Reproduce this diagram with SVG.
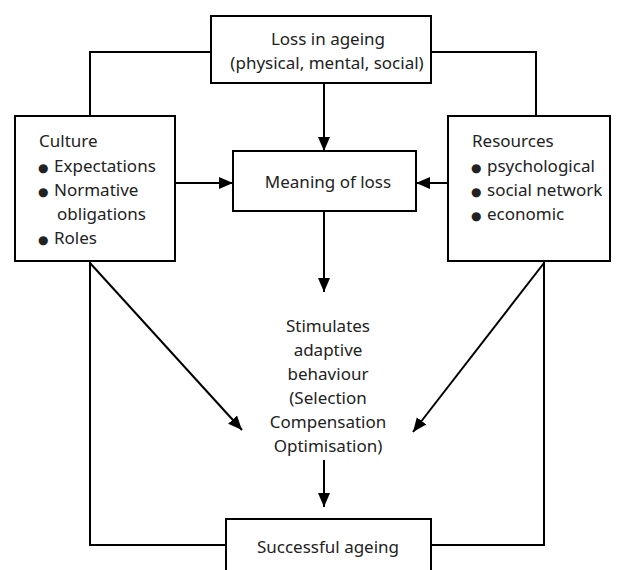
<svg xmlns="http://www.w3.org/2000/svg" width="623" height="570" viewBox="0 0 623 570">
<defs>
<marker id="ah" markerWidth="14" markerHeight="14" viewBox="0 0 14 14" refX="14" refY="7" orient="auto" markerUnits="userSpaceOnUse">
<path d="M0,1 L14,7 L0,13 Z" fill="#000"/>
</marker>
<style>
.box{fill:#fff;stroke:#000;stroke-width:2}
.ln{fill:none;stroke:#000;stroke-width:2}
.arr{fill:none;stroke:#000;stroke-width:2;marker-end:url(#ah)}
text{font-family:"Noto Sans","DejaVu Sans",sans-serif;font-size:17px;fill:#222}
.c{text-anchor:middle}
.b{font-size:12px}
</style>
</defs>
<rect width="623" height="570" fill="#fff"/>
<g id="connectors">
<polyline class="ln" points="211,52 90,52 90,116"/>
<polyline class="ln" points="431,52 536,52 536,116"/>
<line class="arr" x1="324" y1="83" x2="324" y2="151"/>
<line class="arr" x1="175" y1="183" x2="233" y2="183"/>
<line class="arr" x1="448" y1="183" x2="416" y2="183"/>
<line class="arr" x1="324" y1="211" x2="324" y2="292"/>
<line class="arr" x1="90" y1="263" x2="242" y2="430"/>
<line class="arr" x1="544" y1="263" x2="413" y2="432"/>
<line class="arr" x1="324" y1="460" x2="324" y2="507"/>
<polyline class="ln" points="90,261 90,545 226,545"/>
<polyline class="ln" points="544,261 544,545 431,545"/>
</g>
<g id="loss">
<rect class="box" x="211" y="16" width="220" height="67"/>
<text class="c" x="328" y="45">Loss in ageing</text>
<text class="c" x="327" y="69">(physical, mental, social)</text>
</g>
<g id="culture">
<rect class="box" x="15" y="116" width="160" height="145"/>
<text x="39" y="147">Culture</text>
<text y="172"><tspan class="b" x="38">●</tspan><tspan x="54">Expectations</tspan></text>
<text y="196"><tspan class="b" x="38">●</tspan><tspan x="54">Normative</tspan></text>
<text x="57" y="220">obligations</text>
<text y="244"><tspan class="b" x="38">●</tspan><tspan x="54">Roles</tspan></text>
</g>
<g id="resources">
<rect class="box" x="448" y="116" width="162" height="145"/>
<text x="472" y="147">Resources</text>
<text y="172"><tspan class="b" x="471">●</tspan><tspan x="487">psychological</tspan></text>
<text y="196"><tspan class="b" x="471">●</tspan><tspan x="487">social network</tspan></text>
<text y="220"><tspan class="b" x="471">●</tspan><tspan x="487">economic</tspan></text>
</g>
<g id="meaning">
<rect class="box" x="233" y="151" width="183" height="60"/>
<text class="c" x="328" y="188">Meaning of loss</text>
</g>
<g id="adaptive">
<text class="c" x="328" y="332">Stimulates</text>
<text class="c" x="328" y="356">adaptive</text>
<text class="c" x="328" y="380">behaviour</text>
<text class="c" x="328" y="404">(Selection</text>
<text class="c" x="328" y="428">Compensation</text>
<text class="c" x="328" y="452">Optimisation)</text>
</g>
<g id="successful">
<rect class="box" x="226" y="519" width="205" height="60"/>
<text class="c" x="328" y="553">Successful ageing</text>
</g>
</svg>
